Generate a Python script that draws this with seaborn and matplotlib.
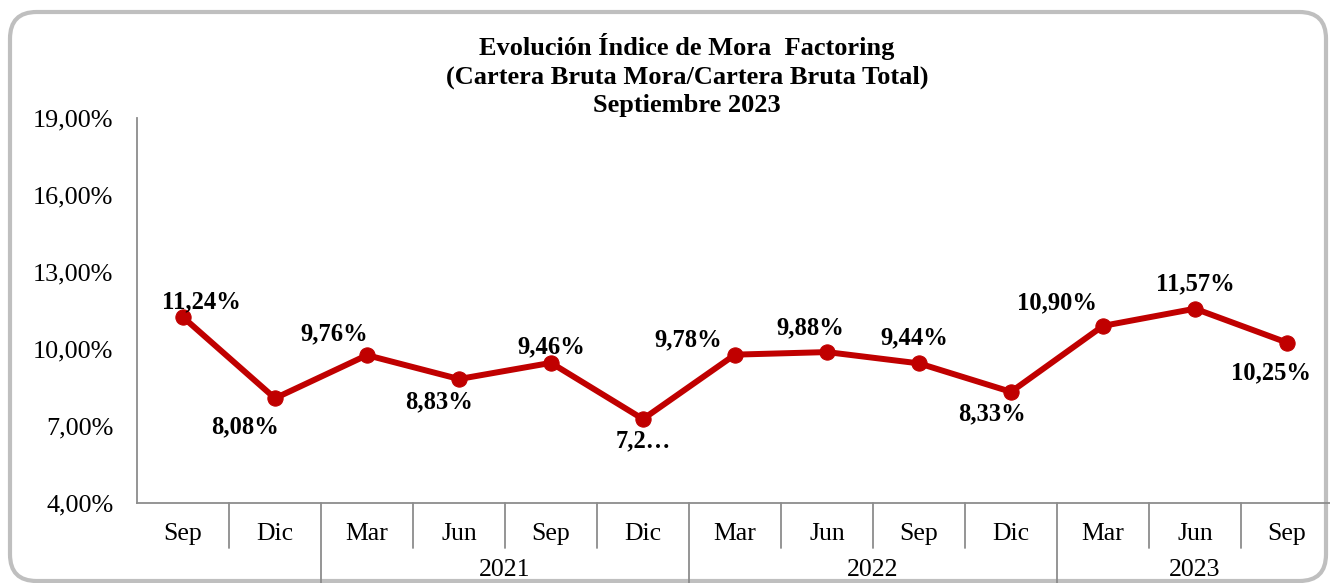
import numpy as np
import pandas as pd
import matplotlib
matplotlib.use("Agg")
import matplotlib.pyplot as plt
import seaborn as sns
from matplotlib.patches import FancyBboxPatch
from matplotlib.ticker import FuncFormatter

# datos del gráfico
meses = ["Sep", "Dic", "Mar", "Jun", "Sep", "Dic", "Mar", "Jun", "Sep", "Dic", "Mar", "Jun", "Sep"]
anios = ["", "", "2021", "2021", "2021", "2021", "2022", "2022", "2022", "2022", "2023", "2023", "2023"]
indice_mora = [11.24, 8.08, 9.76, 8.83, 9.46, 7.27, 9.78, 9.88, 9.44, 8.33, 10.90, 11.57, 10.25]
etiquetas = ["11,24%", "8,08%", "9,76%", "8,83%", "9,46%", "7,2…", "9,78%",
             "9,88%", "9,44%", "8,33%", "10,90%", "11,57%", "10,25%"]
y_ticks = [4, 7, 10, 13, 16, 19]

# desplazamiento de cada etiqueta respecto al punto (pixeles, y hacia abajo)
desplaz = [(18, -15), (-30, 29), (-33, -21), (-20, 23), (0, -16), (0, 22), (-47, -15),
           (-17, -24), (-5, -26), (-19, 22), (-46, -23), (0, -25), (-16, 30)]

ROJO = "#C00000"
GRIS = "#8C8C8C"
W, H = 1330, 583

sns.set_theme(style="white")
plt.rcParams["font.family"] = ["Liberation Serif", "DejaVu Serif"]
plt.rcParams["text.color"] = "black"

fig = plt.figure(figsize=(W / 100, H / 100), dpi=100)

# marco redondeado
marco = FancyBboxPatch((10 / W, 2 / H), (1316 / W), (569 / H),
                       boxstyle="round,pad=0,rounding_size=0.02",
                       transform=fig.transFigure, facecolor="none",
                       edgecolor="#BFBFBF", linewidth=3, mutation_aspect=W / H,
                       zorder=-10)
fig.patches.append(marco)

ax = fig.add_axes([137 / W, (H - 503) / H, 1196 / W, 385 / H])
ax.set_facecolor("none")

df = pd.DataFrame({"pos": np.arange(len(meses)), "valor": indice_mora})
sns.lineplot(data=df, x="pos", y="valor", ax=ax, color=ROJO, linewidth=4.3,
             marker="o", markersize=11, markeredgecolor=ROJO, zorder=3)

ax.set_xlim(-0.5, len(meses) - 0.5)
ax.set_ylim(y_ticks[0], y_ticks[-1])
ax.set_yticks(y_ticks)
ax.yaxis.set_major_formatter(FuncFormatter(lambda v, p: f"{v:.2f}%".replace(".", ",")))
ax.tick_params(axis="y", length=0, pad=17, labelsize=18.8, labelcolor="black")
ax.set_xticks([])
ax.set_xlabel("")
ax.set_ylabel("")

for lado in ["top", "right"]:
    ax.spines[lado].set_visible(False)
for lado in ["left", "bottom"]:
    ax.spines[lado].set_color(GRIS)
    ax.spines[lado].set_linewidth(1.3)

# etiquetas de datos
for i, (v, txt) in enumerate(zip(indice_mora, etiquetas)):
    dx, dy = desplaz[i]
    ax.annotate(txt, (i, v), xytext=(dx * 0.72, -dy * 0.72), textcoords="offset points",
                ha="center", va="center", fontsize=17.7, fontweight="bold", color="black",
                zorder=4)

# eje x en dos niveles
trans = ax.get_xaxis_transform()
for i, m in enumerate(meses):
    ax.text(i, -0.08, m, transform=trans, ha="center", va="center",
            fontsize=18.5, color="black", clip_on=False)
for i in range(1, len(meses)):
    if anios[i] != anios[i - 1]:
        ax.plot([i - 0.5, i - 0.5], [0, -0.3], transform=trans, color=GRIS,
                linewidth=1.3, clip_on=False)
    else:
        ax.plot([i - 0.5, i - 0.5], [0, -0.117], transform=trans, color=GRIS,
                linewidth=1.3, clip_on=False)
ax.plot([len(meses) - 0.5] * 2, [0, -0.3], transform=trans, color=GRIS,
        linewidth=1.3, clip_on=False)

grupos = pd.Series(np.arange(len(anios))).groupby(pd.Series(anios)).agg(["min", "max"])
for anio, fila in grupos.iterrows():
    if anio == "":
        continue
    ax.text((fila["min"] + fila["max"]) / 2, -0.175, anio, transform=trans,
            ha="center", va="center", fontsize=18.5, color="black", clip_on=False)

fig.text(687 / W, (H - 75) / H,
         "Evolución Índice de Mora  Factoring\n(Cartera Bruta Mora/Cartera Bruta Total)\nSeptiembre 2023",
         ha="center", va="center", fontsize=19, fontweight="bold", linespacing=1.3,
         color="black")

fig.savefig("out.png", dpi=100)
